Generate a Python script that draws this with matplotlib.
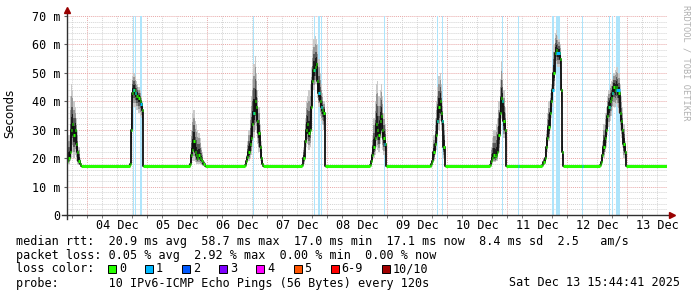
import numpy as np
import matplotlib
matplotlib.use("Agg")
import matplotlib.pyplot as plt
from matplotlib.patches import Rectangle

# ---------------- data ----------------
span_hours = 240                      # Dec 3 16:00 -> Dec 13 16:00
baseline_ms = 17.1
step_h = 0.5

bump_start_h = [0, 25, 49, 71, 94, 121, 145, 169, 190, 213]
bump_median = [
    [19, 20, 22, 30, 32, 28, 30, 25, 22, 19, 18],
    [18, 30, 43, 44, 43, 42, 42, 41, 40, 39, 37],
    [18, 21, 23, 26, 22, 21, 20, 21, 20, 19.5, 19, 18],
    [17.5, 19, 20.5, 22, 25, 27, 32, 36, 40, 38, 33, 29, 24, 20, 18],
    [17.5, 20, 26, 30, 32, 29, 30, 38, 47, 51, 52, 53, 47, 43, 40, 38, 37, 36],
    [17.5, 19, 21, 24, 27, 32, 30, 28, 33, 35, 30, 27, 25],
    [17.3, 17.8, 19, 22, 25, 28, 33, 38, 40, 36, 33, 24],
    [17.5, 19, 20, 21, 20.5, 21, 22, 28, 36, 41, 40, 33, 30],
    [17.5, 18.5, 20, 24, 27, 31, 36, 40, 44, 50, 57, 58, 57, 57, 55, 44, 22],
    [17.5, 18.5, 21, 24, 27, 30, 35, 38, 40, 41, 43, 45, 44, 45, 44, 43, 36, 33, 30, 25, 22],
]
bump_smoke_hi = [
    [24, 28, 42, 46, 44, 40, 38, 34, 30, 24, 20],
    [19, 38, 49, 50, 49, 47, 46, 45, 44, 42, 40],
    [22, 30, 36, 37, 33, 32, 30, 29, 27, 24, 22, 19],
    [18, 21, 26, 30, 36, 42, 48, 53, 56, 50, 44, 38, 32, 26, 20],
    [18, 24, 34, 40, 42, 44, 46, 52, 58, 62, 63, 62, 60, 55, 50, 46, 43, 40],
    [18, 22, 28, 34, 40, 46, 47, 42, 44, 46, 42, 36, 32],
    [17.5, 18.5, 22, 28, 34, 40, 45, 49, 50, 46, 40, 32],
    [18, 24, 27, 30, 30, 32, 34, 40, 48, 54, 50, 44, 38],
    [18, 20, 24, 30, 36, 40, 43, 46, 52, 60, 64, 65, 63, 62, 60, 52, 30],
    [18, 20, 26, 32, 36, 38, 42, 44, 46, 47, 48, 50, 51, 52, 52, 50, 46, 42, 38, 32, 26],
]
bump_smoke_lo = [
    [17.5, 18, 19, 20, 22, 20, 21, 19, 18, 17.5, 17.3],
    [17.3, 20, 36, 38, 38, 37, 37, 36, 35, 34, 30],
    [17.3, 18, 19, 19, 18.5, 18, 18, 18, 17.8, 17.5, 17.4, 17.2],
    [17.2, 17.8, 18.5, 19, 20, 21, 24, 27, 30, 29, 25, 22, 19, 18, 17.3],
    [17.2, 18, 21, 24, 25, 23, 24, 30, 38, 44, 46, 46, 41, 38, 35, 33, 32, 30],
    [17.2, 17.8, 18.5, 20, 21, 24, 23, 22, 25, 27, 23, 21, 20],
    [17.1, 17.3, 18, 19, 21, 23, 26, 30, 33, 30, 26, 20],
    [17.2, 17.5, 18, 18.5, 18.5, 19, 19, 22, 29, 34, 33, 27, 24],
    [17.2, 17.5, 18, 20, 22, 26, 30, 34, 38, 44, 52, 53, 52, 52, 48, 36, 19],
    [17.2, 17.5, 18.5, 20, 22, 24, 28, 31, 33, 35, 37, 38, 38, 39, 38, 36, 30, 27, 24, 20, 18],
]

loss_start_h = [26.4, 27.2, 29.2, 74.4, 98.6, 100.4, 101.6, 126.8, 147.9, 149.9,
                174.1, 180.3, 193.9, 195.6, 205.9, 216.6, 218.0, 219.4]
loss_width_h = [0.4, 0.4, 0.8, 0.4, 0.6, 0.6, 0.5, 0.4, 0.4, 0.4,
                0.4, 0.4, 1.0, 1.6, 0.4, 0.6, 0.4, 1.8]

day_label_h = [20, 44, 68, 92, 116, 140, 164, 188, 212, 236]
day_labels = ['04 Dec', '05 Dec', '06 Dec', '07 Dec', '08 Dec',
              '09 Dec', '10 Dec', '11 Dec', '12 Dec', '13 Dec']
y_ticks = [0, 10, 20, 30, 40, 50, 60, 70]
y_labels = ['0', '10 m', '20 m', '30 m', '40 m', '50 m', '60 m', '70 m']

loss_labels = ['0', '1', '2', '3', '4', '5', '6-9', '10/10']
loss_colors = ['#26ff00', '#00b8ff', '#0059ff', '#7e00ff', '#ff00ff',
               '#ff5500', '#ff0000', '#a10000']

stat_lines = [
    "median rtt:  20.9 ms avg  58.7 ms max  17.0 ms min  17.1 ms now  8.4 ms sd  2.5   am/s",
    "packet loss: 0.05 % avg  2.92 % max  0.00 % min  0.00 % now",
]
loss_title = "loss color:"
probe_line = "probe:       10 IPv6-ICMP Echo Pings (56 Bytes) every 120s"
date_text = "Sat Dec 13 15:44:41 2025"

# ---------------- build series ----------------
t, med, hi, lo = [], [], [], []
prev_end = 0.0
for s, m, h, l in zip(bump_start_h, bump_median, bump_smoke_hi, bump_smoke_lo):
    if s > prev_end:
        t.append(prev_end); med.append(baseline_ms); hi.append(baseline_ms + 0.3); lo.append(baseline_ms - 0.1)
    for i in range(len(m)):
        t.append(s + i * step_h); med.append(m[i]); hi.append(h[i]); lo.append(l[i])
    prev_end = s + len(m) * step_h
if prev_end < span_hours:
    t.append(prev_end); med.append(baseline_ms); hi.append(baseline_ms + 0.3); lo.append(baseline_ms - 0.1)
t = np.array(t, float); med = np.array(med, float); hi = np.array(hi, float); lo = np.array(lo, float)
w = np.diff(np.append(t, span_hours))

# ---------------- figure ----------------
W, H = 697, 297
fig = plt.figure(figsize=(W / 100, H / 100), dpi=100, facecolor='white')
ax = fig.add_axes([67 / W, 1 - 215 / H, 600 / W, 199 / H])
ax.set_facecolor('white')
ax.set_xlim(0, span_hours)
ax.set_ylim(0, 70)
for sp in ax.spines.values():
    sp.set_visible(False)

dot = (0, (1, 1))
# grid
for x in np.arange(2, span_hours, 6):
    if (x - 8) % 24 == 0:
        ax.axvline(x, color='#e8a8a8', lw=0.7, ls=dot, zorder=1)
    else:
        ax.axvline(x, color='#d4d4d4', lw=0.7, ls=dot, zorder=1)
for y in np.arange(2, 71, 2):
    if y % 10 == 0:
        ax.axhline(y, color='#e8a8a8', lw=0.7, ls=dot, zorder=1)
    else:
        ax.axhline(y, color='#d4d4d4', lw=0.7, ls=dot, zorder=1)

# loss background bars
for s, lw_ in zip(loss_start_h, loss_width_h):
    ax.axvspan(s, s + lw_, color='#aee4fb', lw=0, zorder=1.5)

# smoke
fracs = [1.0, 0.75, 0.5, 0.28]
greys = ['#cacaca', '#979797', '#5a5a5a', '#1e1e1e']
for f, g in zip(fracs, greys):
    top = med + f * (hi - med)
    bot = med - f * (med - lo)
    ax.bar(t, top - bot, bottom=bot, width=w, align='edge', color=g, lw=0, zorder=2)

# median
ax.step(np.append(t, span_hours), np.append(med, med[-1]), where='post',
        color='#101010', lw=1.3, zorder=3)
ax.hlines(med, t, t + w, color=loss_colors[0], lw=2.2, zorder=4)
for s, lw_ in zip(loss_start_h, loss_width_h):
    idx = np.searchsorted(t, s + lw_ / 2, side='right') - 1
    ax.hlines(med[idx], s, s + lw_, color=loss_colors[1], lw=2.2, zorder=5)

# ticks
mono = 'DejaVu Sans Mono'
fs = 8.5
ax.set_xticks(day_label_h)
ax.set_xticklabels(day_labels, family=mono, fontsize=fs)
ax.set_xticks(np.arange(2, span_hours, 6), minor=True)
ax.tick_params(axis='x', which='major', length=0, pad=3)
ax.tick_params(axis='x', which='minor', length=2, color='#606060')
ax.set_yticks(y_ticks)
ax.set_yticklabels(y_labels, family=mono, fontsize=fs)
ax.set_yticks(np.arange(0, 71, 2), minor=True)
ax.tick_params(axis='y', which='major', length=2, pad=3, color='#606060')
ax.tick_params(axis='y', which='minor', length=0)

# axis lines with arrows
ax.plot([-5 / 600, 1 + 4 / 600], [0, 0], transform=ax.transAxes, color='#303030',
        lw=1.0, clip_on=False, zorder=6)
ax.plot([1 + 5 / 600], [0], marker='>', ms=4, color='#990000', transform=ax.transAxes,
        clip_on=False, zorder=6)
ax.plot([0, 0], [-4 / 199, 1 + 5 / 199], transform=ax.transAxes, color='#303030',
        lw=1.0, clip_on=False, zorder=6)
ax.plot([0], [1 + 6 / 199], marker='^', ms=4, color='#990000', transform=ax.transAxes,
        clip_on=False, zorder=6)

# labels
fig.text(10 / W, 1 - 113 / H, 'Seconds', rotation=90, ha='center', va='center',
         fontsize=fs, family='DejaVu Sans')
fig.text(686 / W, 1 - 5 / H, 'RRDTOOL / TOBI OETIKER', rotation=270, ha='center',
         va='top', fontsize=6.2, family=mono, color='#b0b0b0')

# legend lines
fig.text(16 / W, 1 - 241 / H, stat_lines[0], family=mono, fontsize=fs, va='center')
fig.text(16 / W, 1 - 255 / H, stat_lines[1], family=mono, fontsize=fs, va='center')
fig.text(16 / W, 1 - 269 / H, loss_title, family=mono, fontsize=fs, va='center')
cw = 7.1
bx = 108.0
for lab, col in zip(loss_labels, loss_colors):
    fig.add_artist(Rectangle((bx / W, 1 - 273 / H), 8 / W, 8 / H, transform=fig.transFigure,
                             facecolor=col, edgecolor='black', lw=0.7))
    fig.text((bx + 11) / W, 1 - 269 / H, lab, family=mono, fontsize=fs, va='center')
    bx += 11 + cw * len(lab) + 19
fig.text(16 / W, 1 - 283 / H, probe_line, family=mono, fontsize=fs, va='center')
fig.text(680 / W, 1 - 283 / H, date_text, family=mono, fontsize=fs, va='center', ha='right')

fig.savefig('out.png', dpi=100, facecolor='white')
